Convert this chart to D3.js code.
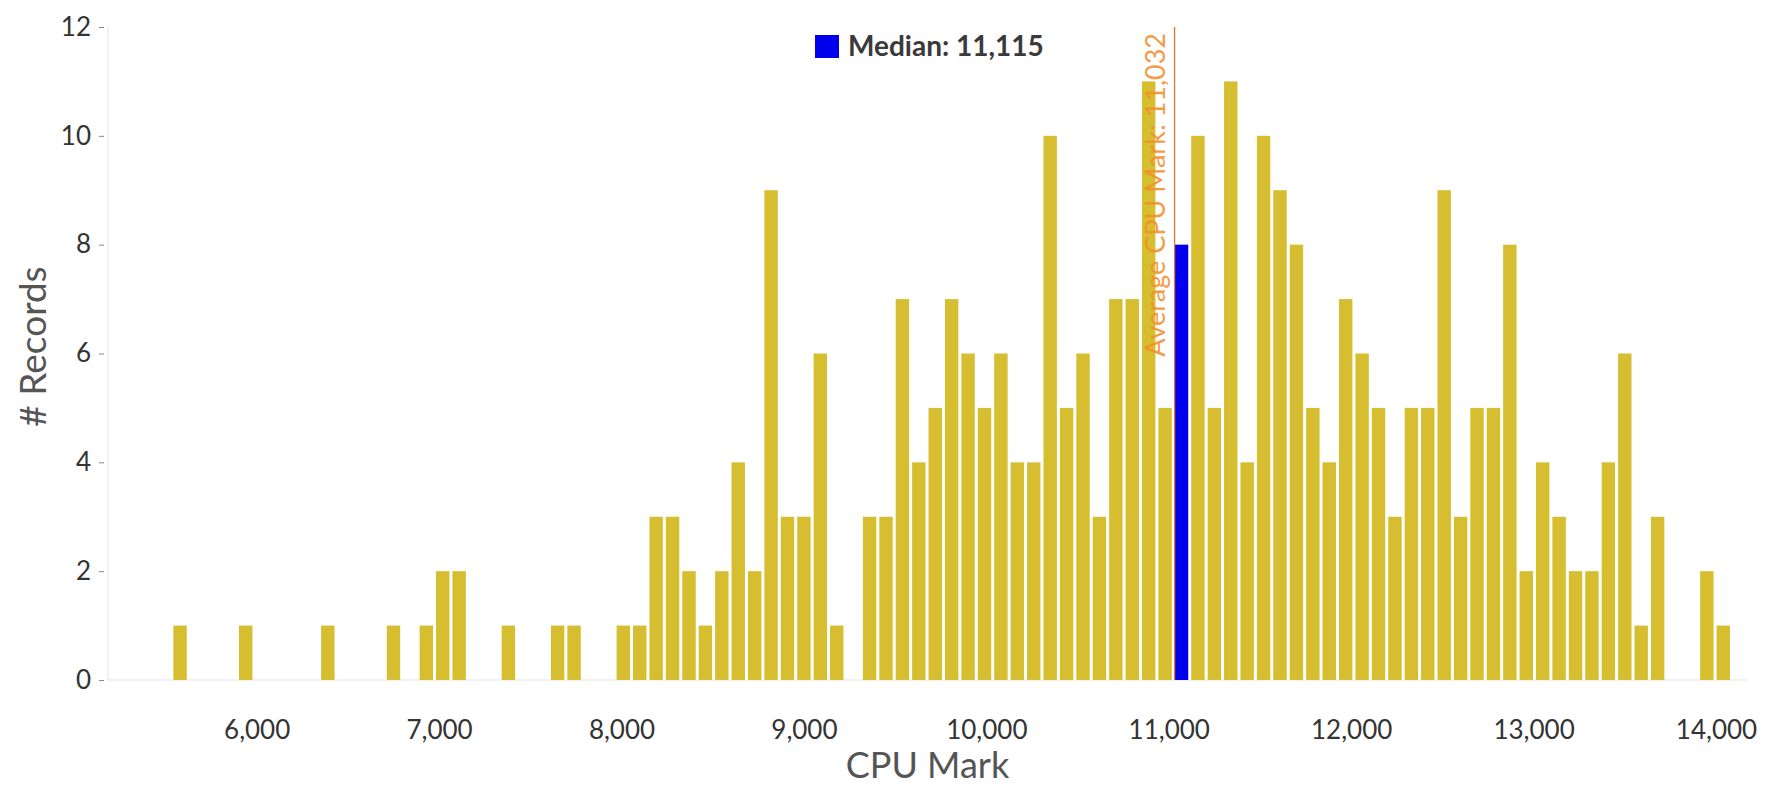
<!DOCTYPE html>
<html>
<head>
<meta charset="utf-8">
<script src="https://cdn.jsdelivr.net/npm/d3@7"></script>
<style>
  body { margin: 0; background: #fff; }
  text { font-family: Lato, "Open Sans", sans-serif; }
</style>
</head>
<body>
<div id="vis-holder"></div>
<script>
// Histogram bins (CPU Mark), one count per bin of 90, first bin at 5,580
const binStart = 5580;
const binSize = 90;
const counts = [
  1, 0, 0, 0, 1, 0, 0, 0, 0, 1,
  0, 0, 0, 1, 0, 1, 2, 2, 0, 0,
  1, 0, 0, 1, 1, 0, 0, 1, 1, 3,
  3, 2, 1, 2, 4, 2, 9, 3, 3, 6,
  1, 0, 3, 3, 7, 4, 5, 7, 6, 5,
  6, 4, 4, 10, 5, 6, 3, 7, 7, 11,
  5, 8, 10, 5, 11, 4, 10, 9, 8, 5,
  4, 7, 6, 5, 3, 5, 5, 9, 3, 5,
  5, 8, 2, 4, 3, 2, 2, 4, 6, 1,
  3, 0, 0, 2, 1
];
const xTicks = [6000, 7000, 8000, 9000, 10000, 11000, 12000, 13000, 14000];
const yTicks = [0, 2, 4, 6, 8, 10, 12];
const median = 11115;
const average = 11032;

const width = 1772;
const height = 786;

// Plot area
const plot = { left: 108, right: 1747, top: 27, bottom: 680 };

const svg = d3.select("#vis-holder")
  .append("svg")
  .attr("width", width)
  .attr("height", height);

// Build bin rows from the counts
const data = counts.map((c, i) => ({ bin: binStart + i * binSize, count: c }));

// Scales
const x = d3.scaleLinear()
  .domain([5185, 14170])
  .range([plot.left, plot.right]);

const y = d3.scaleLinear()
  .domain([0, 12])
  .range([plot.bottom, plot.top]);

const barW = (x(binSize) - x(0)) - 3;

// Axis lines (light gray)
svg.append("line")
  .attr("x1", plot.left).attr("x2", plot.left)
  .attr("y1", plot.top).attr("y2", plot.bottom)
  .attr("stroke", "#ececec").attr("stroke-width", 1.5);

svg.append("line")
  .attr("x1", plot.left).attr("x2", plot.right)
  .attr("y1", plot.bottom).attr("y2", plot.bottom)
  .attr("stroke", "#ececec").attr("stroke-width", 1.5);

// Y axis ticks and labels
const yAxis = svg.append("g")
  .attr("transform", `translate(${plot.left - 4}, 0)`)
  .call(d3.axisLeft(y).tickValues(yTicks).tickSize(5).tickPadding(8))
  .attr("font-size", "26px");
yAxis.select(".domain").remove();
yAxis.selectAll(".tick line").attr("stroke", "#888");
yAxis.selectAll(".tick text")
  .attr("fill", "#333")
  .attr("font-family", "Lato, sans-serif");

// X axis labels (no tick marks)
const xAxis = svg.append("g")
  .attr("transform", `translate(0, ${plot.bottom})`)
  .call(d3.axisBottom(x).tickValues(xTicks).tickSize(0).tickPadding(41)
          .tickFormat(d3.format(",")))
  .attr("font-size", "26px");
xAxis.select(".domain").remove();
xAxis.selectAll(".tick text")
  .attr("fill", "#333")
  .attr("font-family", "Lato, sans-serif");

// Bars, centered on the bin value
svg.selectAll(".bar")
  .data(data.filter(d => d.count > 0))
  .enter()
  .append("rect")
    .attr("class", "bar")
    .attr("x", d => x(d.bin) - barW / 2)
    .attr("y", d => y(d.count))
    .attr("width", barW)
    .attr("height", d => y(0) - y(d.count))
    .attr("fill", d => (median >= d.bin && median < d.bin + binSize) ? "#0000ee" : "#d6be30");

// Average reference line and label
svg.append("line")
  .attr("x1", x(average)).attr("x2", x(average))
  .attr("y1", plot.top).attr("y2", plot.bottom)
  .attr("stroke", "#e0782a").attr("stroke-width", 1.3);

svg.append("text")
  .attr("transform", `translate(${x(average) - 10}, ${plot.top + 6}) rotate(-90)`)
  .attr("text-anchor", "end")
  .attr("font-size", "27px")
  .attr("fill", "#f28e2b")
  .attr("fill-opacity", 0.9)
  .text("Average CPU Mark: " + d3.format(",")(average));

// Median legend
svg.append("rect")
  .attr("x", 815).attr("y", 35)
  .attr("width", 24).attr("height", 23)
  .attr("fill", "#0000ee");

svg.append("text")
  .attr("x", 848).attr("y", 56)
  .attr("font-size", "28px")
  .attr("font-weight", "bold")
  .attr("fill", "#3a3a3a")
  .text("Median: " + d3.format(",")(median));

// Axis titles
svg.append("text")
  .attr("x", (plot.left + plot.right) / 2)
  .attr("y", 778)
  .attr("text-anchor", "middle")
  .attr("font-size", "36px")
  .attr("fill", "#555")
  .text("CPU Mark");

svg.append("text")
  .attr("transform", `translate(46, ${(plot.top + plot.bottom) / 2 - 7}) rotate(-90)`)
  .attr("text-anchor", "middle")
  .attr("font-size", "37px")
  .attr("fill", "#555")
  .text("# Records");
</script>
</body>
</html>
